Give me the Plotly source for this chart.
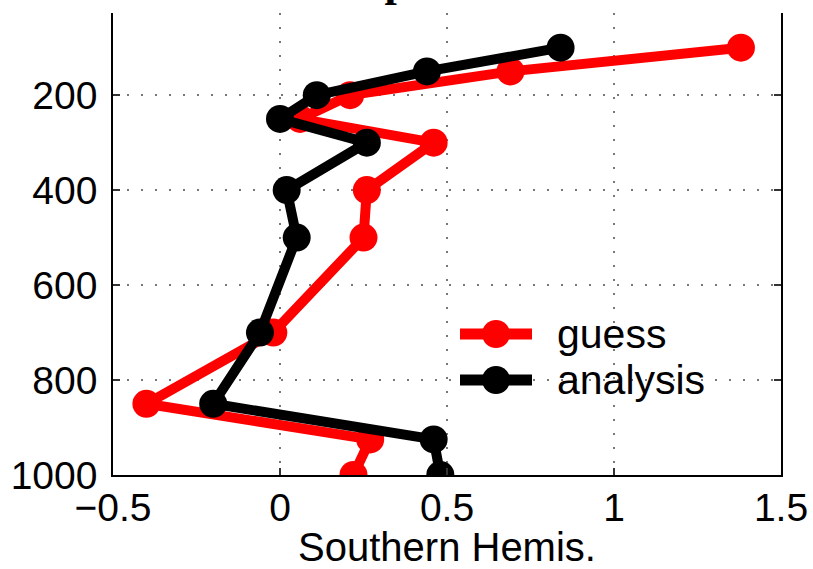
import plotly.graph_objects as go

# Pressure levels (hPa) and profiles for the Southern Hemisphere
levels = [100, 150, 200, 250, 300, 400, 500, 700, 850, 925, 1000]
guess = [1.38, 0.69, 0.21, 0.06, 0.46, 0.26, 0.25, -0.02, -0.40, 0.27, 0.22]
analysis = [0.84, 0.44, 0.11, 0.00, 0.26, 0.02, 0.05, -0.06, -0.20, 0.46, 0.48]

series_names = ["guess", "analysis"]
series_colors = ["#ff0000", "#000000"]

x_ticks = [-0.5, 0, 0.5, 1, 1.5]
y_ticks = [200, 400, 600, 800, 1000]

W, H = 813, 569
L, R, T, B = 113, 32, 13, 94
PW, PH = W - L - R, H - T - B

SANS = "Liberation Sans, Arial, Helvetica, sans-serif"

fig = go.Figure()
for name, vals, col in zip(series_names, [guess, analysis], series_colors):
    fig.add_trace(go.Scatter(
        x=vals, y=levels, name=name, mode="lines+markers",
        line=dict(color=col, width=10),
        marker=dict(color=col, size=28, line=dict(width=0)),
        showlegend=False,
    ))


def px_to_paper(px, py):
    return (px - L) / PW, (H - B - py) / PH


# Hand-built legend so the symbols keep the full line/marker size
shapes = []
annotations = []
for i, (name, col) in enumerate(zip(series_names, series_colors)):
    row_y = 334 + 46 * i
    x0, y0 = px_to_paper(460, row_y)
    x1, _ = px_to_paper(532, row_y)
    shapes.append(dict(type="line", xref="paper", yref="paper",
                       x0=x0, x1=x1, y0=y0, y1=y0,
                       line=dict(color=col, width=11)))
    cx0, cy0 = px_to_paper(496 - 14, row_y - 14)
    cx1, cy1 = px_to_paper(496 + 14, row_y + 14)
    shapes.append(dict(type="circle", xref="paper", yref="paper",
                       x0=cx0, x1=cx1, y0=cy1, y1=cy0,
                       fillcolor=col, line=dict(color=col, width=0)))
    tx, ty = px_to_paper(555, row_y)
    annotations.append(dict(text=name, xref="paper", yref="paper",
                            x=tx, y=ty, xanchor="left", yanchor="middle",
                            showarrow=False,
                            font=dict(family=SANS, size=41, color="black")))

# Panel title above the axes
annotations.append(dict(text="<b>Temperature</b>", xref="paper", yref="paper",
                        x=0.5, y=1, xanchor="center", yanchor="bottom",
                        xshift=-22, yshift=5, showarrow=False,
                        font=dict(family="Liberation Serif, Times New Roman, serif",
                                  size=44, color="black")))

fig.update_layout(
    width=W, height=H,
    margin=dict(l=L, r=R, t=T, b=B, pad=0),
    paper_bgcolor="white", plot_bgcolor="white",
    shapes=shapes, annotations=annotations,
    showlegend=False,
    font=dict(family=SANS, color="black"),
)

grid_style = dict(showgrid=True, gridcolor="#777777", gridwidth=1.5,
                  griddash="2px,12px", zeroline=False, automargin=False)

fig.update_xaxes(
    range=[-0.5, 1.5], tickvals=x_ticks, ticktext=["\u22120.5", "0", "0.5", "1", "1.5"],
    ticks="inside", ticklen=7, tickwidth=1.5, tickcolor="#333333",
    showline=True, linecolor="black", linewidth=1.5, mirror=False,
    tickfont=dict(family=SANS, size=39, color="black"),
    ticklabelstandoff=-3,
    title=dict(text="Southern Hemis.", font=dict(family=SANS, size=40, color="black"),
               standoff=6),
    **grid_style,
)
fig.update_yaxes(
    range=[1000, 27], tickvals=y_ticks,
    ticks="inside", ticklen=7, tickwidth=1.5, tickcolor="#333333",
    showline=True, linecolor="black", linewidth=1.5, mirror="ticks",
    tickfont=dict(family=SANS, size=39, color="black"),
    ticklabelstandoff=6,
    **grid_style,
)

fig.write_html("out.html")
